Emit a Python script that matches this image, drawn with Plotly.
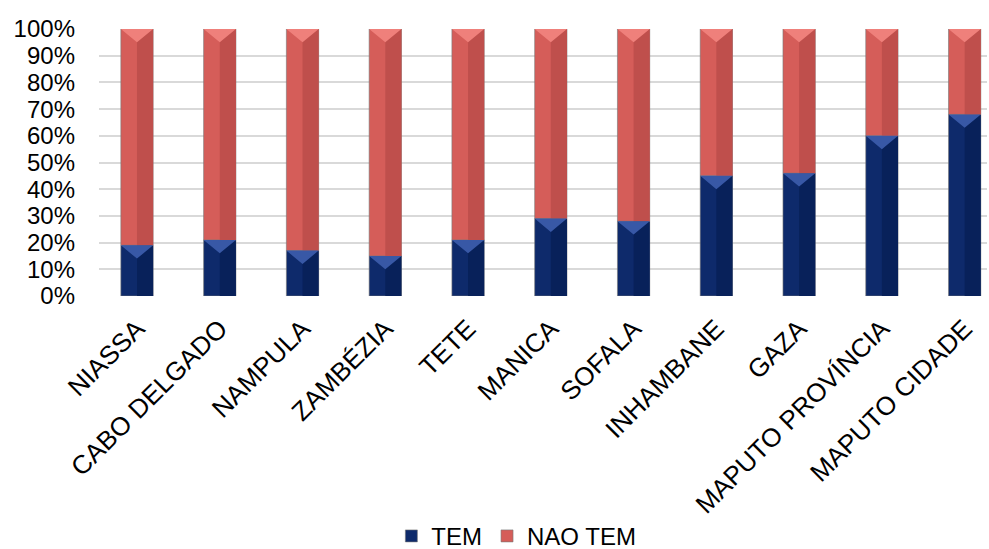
import plotly.graph_objects as go

provinces = ["NIASSA", "CABO DELGADO", "NAMPULA", "ZAMBÉZIA", "TETE", "MANICA",
             "SOFALA", "INHAMBANE", "GAZA", "MAPUTO PROVÍNCIA", "MAPUTO CIDADE"]
tem = [19, 21, 17, 15, 21, 29, 28, 45, 46, 60, 68]
nao_tem = [100 - v for v in tem]
y_ticks = list(range(0, 101, 10))

BAR_W = 0.39
BEVEL = 5  # depth of the top bevel, in percentage points

series = [
    # name, values, base, main colour, shaded right side, top highlight
    ("TEM", tem, [0] * len(tem), "#0E2A6B", "#08215A", "#3858A6"),
    ("NAO TEM", nao_tem, tem, "#D55D59", "#BF4F4C", "#EF807B"),
]

fig = go.Figure()
idx = list(range(len(provinces)))
for name, vals, base, col, dark, light in series:
    fig.add_trace(go.Bar(
        x=idx, y=vals, base=base, name=name, width=BAR_W,
        marker=dict(color=col, line=dict(color="rgba(120,120,120,0.6)", width=1)),
        hoverinfo="skip",
    ))
    # darker right half of each bar
    fig.add_trace(go.Bar(
        x=idx, y=vals, base=base, width=BAR_W / 2, offset=0,
        marker=dict(color=dark, line=dict(width=0)),
        showlegend=False, hoverinfo="skip",
    ))
    # lighter bevel triangle at the top of each segment
    tx, ty = [], []
    for i, (v, b) in enumerate(zip(vals, base)):
        top = b + v
        d = min(BEVEL, v / 2)
        tx += [i - BAR_W / 2, i + BAR_W / 2, i, i - BAR_W / 2, None]
        ty += [top, top, top - d, top, None]
    fig.add_trace(go.Scatter(
        x=tx, y=ty, mode="lines", fill="toself", fillcolor=light,
        line=dict(width=0), showlegend=False, hoverinfo="skip",
    ))

fig.update_layout(
    barmode="overlay",
    width=989, height=549,
    margin=dict(l=99, r=2, t=29, b=253, autoexpand=False),
    paper_bgcolor="white", plot_bgcolor="white",
    font=dict(family="Liberation Sans, Arial, sans-serif", color="black", size=24),
    showlegend=True,
    legend=dict(orientation="h", x=0.47, xanchor="center", y=-0.9, yanchor="middle",
                font=dict(size=24), traceorder="normal", itemwidth=30),
)
fig.update_xaxes(
    tickmode="array", tickvals=idx, ticktext=provinces, tickangle=-45,
    range=[-0.459, 10.27], showgrid=False, zeroline=False, showline=False,
    ticks="outside", ticklen=6, tickcolor="rgba(0,0,0,0)",
    tickfont=dict(size=26), automargin=False,
)
fig.update_yaxes(
    range=[0, 100], tickvals=y_ticks, ticktext=[f"{v}%" for v in y_ticks],
    showgrid=True, gridcolor="#D9D9D9", gridwidth=2, zeroline=False,
    showline=False, ticks="", ticklabelstandoff=23, tickfont=dict(size=24),
    automargin=False,
)

fig.write_html("out.html")
